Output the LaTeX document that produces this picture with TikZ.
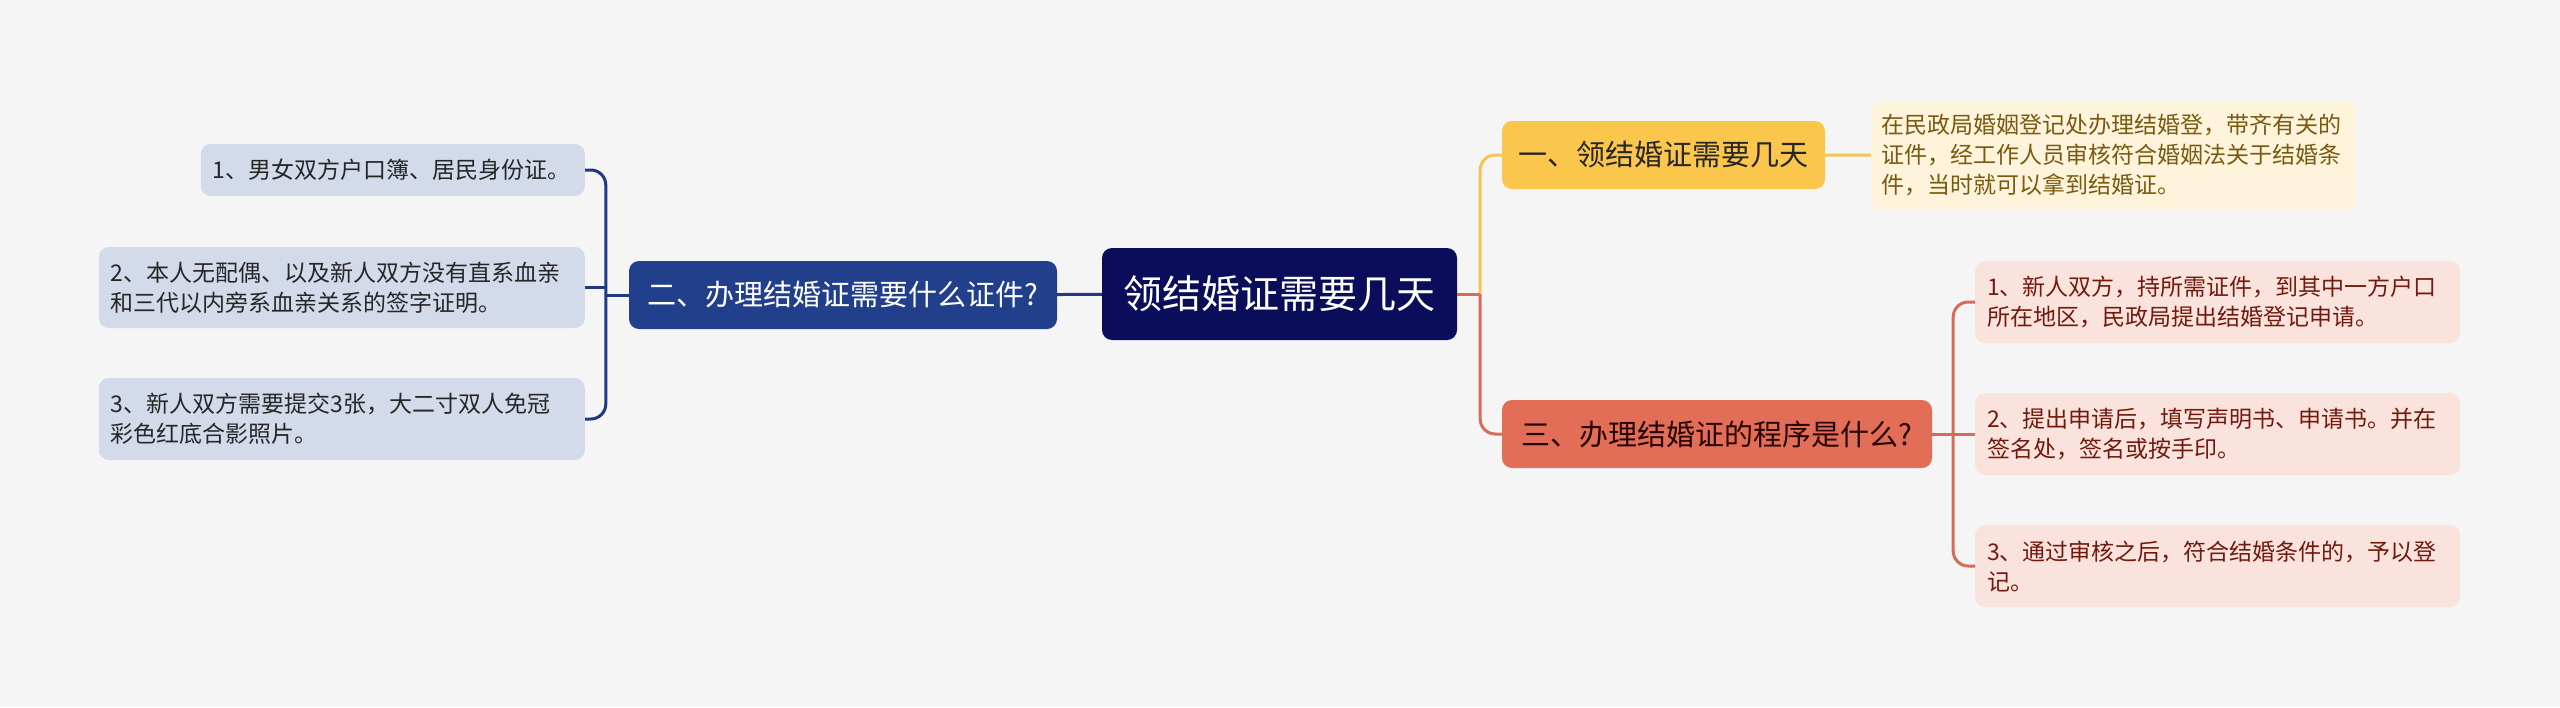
\documentclass[tikz,border=0pt]{standalone}
\usepackage{fontspec}
\setmainfont{Noto Sans CJK SC}
\usepackage{xcolor}
\usetikzlibrary{positioning}
\definecolor{bggray}{HTML}{F5F5F5}
\definecolor{rootblue}{HTML}{0A0E5A}
\definecolor{lbranchblue}{HTML}{213F8B}
\definecolor{lleaffill}{HTML}{D3DAE9}
\definecolor{llinecol}{HTML}{1F3A82}
\definecolor{ybranchfill}{HTML}{FAC64C}
\definecolor{ylinecol}{HTML}{F6C550}
\definecolor{notefill}{HTML}{FEF3DB}
\definecolor{notetext}{HTML}{7A5A10}
\definecolor{cbranchfill}{HTML}{E26E57}
\definecolor{clinecol}{HTML}{D86B57}
\definecolor{rleaffill}{HTML}{FAE3DD}
\definecolor{rleaftext}{HTML}{721A0E}

\begin{document}
\begin{tikzpicture}[x=1pt, y=-1pt,
  box/.style={rounded corners=10pt, inner sep=0pt},
  rootbox/.style={box, fill=rootblue, text=white, minimum width=355pt,
    minimum height=92pt, font=\fontsize{39}{47}\selectfont},
  branchbox/.style={box, minimum height=68pt, font=\fontsize{29}{35}\selectfont},
  leafbox/.style={box, inner xsep=12pt, align=left, minimum height=82pt,
    font=\fontsize{23}{30}\selectfont},
  link/.style={line width=3pt}]
        \fill[bggray] (0,0) rectangle (2560,707);
        \useasboundingbox (0,0) rectangle (2560,707);

        % centre and the three branches
        \node[rootbox] (root) at (1279.5,294) {领结婚证需要几天};
        \node[branchbox, fill=lbranchblue, text=white, minimum width=428pt] (lbranch) at (843,295) {二、办理结婚证需要什么证件?};
        \node[branchbox, fill=ybranchfill, text=black!85, minimum width=323pt] (ybranch) at (1663.5,155) {一、领结婚证需要几天};
        \node[branchbox, fill=cbranchfill, text=black!85!red, minimum width=430pt] (cbranch) at (1717,434) {三、办理结婚证的程序是什么?};
        \node[leafbox, fill=notefill, text=notetext, text width=465pt, inner xsep=10pt, minimum height=109pt] (note) at (2113.5,155.5)
          {在民政局婚姻登记处办理结婚登，带齐有关的\\证件，经工作人员审核符合婚姻法关于结婚条\\件，当时就可以拿到结婚证。};

        % leaves on the left
        \foreach \i/\y/\h/\tw/\txt in {
          1/170/52/360/{1、男女双方户口簿、居民身份证。},
          2/287.5/81/462/{2、本人无配偶、以及新人双方没有直系血亲\\和三代以内旁系血亲关系的签字证明。},
          3/419/82/462/{3、新人双方需要提交3张，大二寸双人免冠\\彩色红底合影照片。}}{
          \node[leafbox, fill=lleaffill, text=black!85, anchor=east, text width=\tw pt, minimum height=\h pt] (lleaf\i) at (585,\y) {\txt};
        }

        % leaves on the right
        \foreach \i/\y/\txt in {
          1/302/{1、新人双方，持所需证件，到其中一方户口\\所在地区，民政局提出结婚登记申请。},
          2/434/{2、提出申请后，填写声明书、申请书。并在\\签名处，签名或按手印。},
          3/566/{3、通过审核之后，符合结婚条件的，予以登\\记。}}{
          \node[leafbox, fill=rleaffill, text=rleaftext, anchor=west, text width=461pt] (rleaf\i) at (1975,\y) {\txt};
        }

        \coordinate[left=23pt of lbranch] (ljoint);
        \coordinate[right=23pt of root] (rjoint);
        \coordinate[right=21pt of cbranch] (cjoint);

        \draw[link, llinecol] (root) -- (lbranch);
        \draw[link, llinecol] (lbranch) -- (ljoint);
        \draw[link, llinecol, rounded corners=15pt] (lleaf1.east) -| (ljoint) |- (lleaf3.east);
        \draw[link, llinecol] (lleaf2.east) -- (lleaf2.east -| ljoint);

        \draw[link, ylinecol, rounded corners=15pt] (rjoint) |- (ybranch.west);
        \draw[link, ylinecol] (ybranch) -- (note);
        \draw[link, clinecol] (root) -- (rjoint);
        \draw[link, clinecol, rounded corners=15pt] (rjoint) |- (cbranch.west);

        \draw[link, clinecol] (cbranch) -- (cjoint);
        \draw[link, clinecol, rounded corners=15pt] (rleaf1.west) -| (cjoint) |- (rleaf3.west);
        \draw[link, clinecol] (rleaf2.west) -- (rleaf2.west -| cjoint);
      \end{tikzpicture}
\end{document}
